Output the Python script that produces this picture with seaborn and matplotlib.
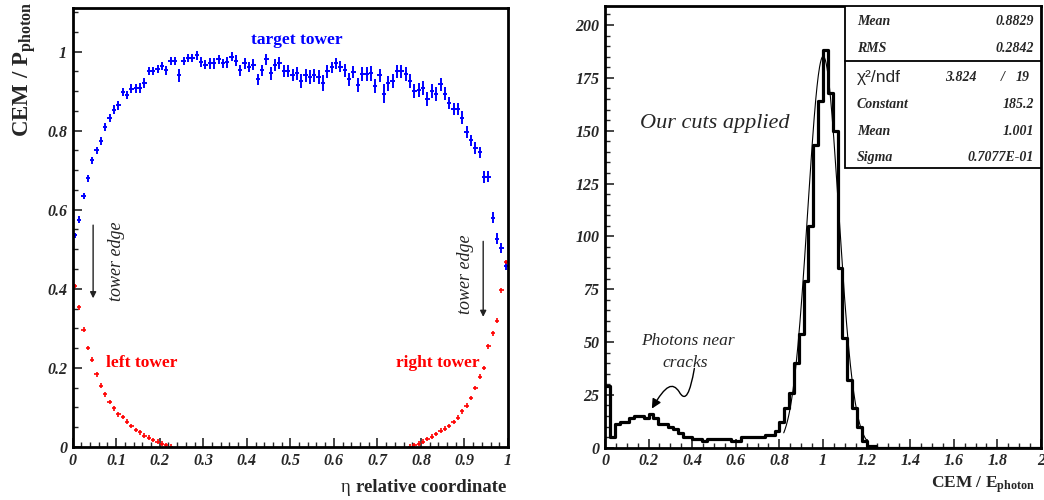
import numpy as np
import pandas as pd
import matplotlib
matplotlib.use("Agg")
import matplotlib.pyplot as plt
from matplotlib.ticker import MultipleLocator, FuncFormatter
from matplotlib.path import Path
from matplotlib.patches import FancyArrowPatch, Rectangle
import seaborn as sns

# ---------------- data: left panel ----------------
eta_target = [round(0.005 + 0.01 * i, 3) for i in range(100)]
cem_target = [0.535, 0.575, 0.634, 0.68, 0.725, 0.75, 0.773, 0.81, 0.833, 0.853,
              0.864, 0.897, 0.89, 0.906, 0.907, 0.908, 0.92, 0.95, 0.95, 0.955,
              0.963, 0.952, 0.975, 0.975, 0.94, 0.975, 0.984, 0.984, 0.99, 0.973,
              0.967, 0.97, 0.97, 0.98, 0.97, 0.973, 0.987, 0.977, 0.952, 0.97,
              0.96, 0.967, 0.93, 0.952, 0.98, 0.945, 0.965, 0.97, 0.95, 0.95,
              0.94, 0.945, 0.925, 0.94, 0.935, 0.94, 0.935, 0.92, 0.95, 0.96,
              0.97, 0.962, 0.952, 0.93, 0.948, 0.915, 0.943, 0.943, 0.945, 0.912,
              0.94, 0.893, 0.92, 0.925, 0.95, 0.95, 0.943, 0.925, 0.9, 0.903,
              0.908, 0.88, 0.9, 0.893, 0.917, 0.893, 0.87, 0.855, 0.855, 0.833,
              0.796, 0.775, 0.755, 0.745, 0.683, 0.683, 0.58, 0.527, 0.503, 0.457]
err_target = [0.006, 0.008, 0.008, 0.009, 0.009, 0.009, 0.010, 0.010, 0.010, 0.011,
              0.011, 0.010, 0.011, 0.012, 0.012, 0.012, 0.012, 0.010, 0.010, 0.010,
              0.011, 0.012, 0.010, 0.010, 0.017, 0.010, 0.010, 0.010, 0.012, 0.012,
              0.012, 0.014, 0.014, 0.012, 0.012, 0.014, 0.012, 0.013, 0.015, 0.013,
              0.013, 0.014, 0.014, 0.015, 0.013, 0.017, 0.015, 0.015, 0.015, 0.015,
              0.015, 0.017, 0.017, 0.017, 0.017, 0.017, 0.018, 0.020, 0.016, 0.014,
              0.013, 0.015, 0.016, 0.016, 0.016, 0.018, 0.018, 0.018, 0.019, 0.018,
              0.017, 0.024, 0.019, 0.018, 0.017, 0.017, 0.017, 0.018, 0.018, 0.018,
              0.017, 0.018, 0.018, 0.018, 0.017, 0.016, 0.016, 0.016, 0.016, 0.016,
              0.015, 0.015, 0.015, 0.014, 0.015, 0.014, 0.014, 0.014, 0.012, 0.010]

eta_left = [round(0.005 + 0.01 * i, 3) for i in range(23)]
cem_left = [0.407, 0.353, 0.297, 0.25, 0.221, 0.184, 0.155, 0.133, 0.114, 0.098,
            0.083, 0.076, 0.064, 0.053, 0.043, 0.037, 0.029, 0.024, 0.018, 0.013,
            0.008, 0.004, 0.001]
eta_right = [round(0.775 + 0.01 * i, 3) for i in range(23)]
cem_right = [0.001, 0.004, 0.008, 0.013, 0.020, 0.026, 0.033, 0.041, 0.046, 0.053,
             0.063, 0.074, 0.090, 0.104, 0.124, 0.149, 0.178, 0.200, 0.255, 0.287,
             0.319, 0.396, 0.468]

# ---------------- data: right panel ----------------
n_bins = 90
hist_counts = [29, 5, 11, 12, 12, 14, 15, 15, 14, 16,
               14, 11, 11, 10, 9, 7, 5, 5, 4, 4,
               3, 4, 4, 4, 4, 4, 3, 3, 5, 5,
               5, 5, 5, 6, 6, 8, 12, 19, 26, 40,
               54, 79, 105, 143, 164, 188, 168, 150, 85, 52,
               32, 19, 10, 3, 1, 1, 0, 0, 0, 0,
               0, 0, 0, 0, 0, 0, 0, 0, 0, 0,
               0, 0, 0, 0, 0, 0, 0, 0, 0, 0,
               0, 0, 0, 0, 0, 0, 0, 0, 0, 0]
fit_constant, fit_mean, fit_sigma = 185.2, 1.001, 0.07077
stat_labels = ["Mean", "RMS", None, "Constant", "Mean", "Sigma"]
stat_values = ["0.8829", "0.2842", None, "185.2", "1.001", "0.7077E-01"]
chi2_text, ndf_text = "3.824", "19"

# ---------------- style ----------------
sns.set_style("ticks")
plt.rcParams['font.family'] = ['Liberation Serif', 'DejaVu Serif']
plt.rcParams['mathtext.fontset'] = 'custom'
plt.rcParams['mathtext.rm'] = 'Liberation Serif'
plt.rcParams['mathtext.bf'] = 'Liberation Serif:bold'
plt.rcParams['mathtext.it'] = 'Liberation Serif:italic'

fig = plt.figure(figsize=(10.44, 5), dpi=100)
ax1 = fig.add_axes([0.0696, 0.106, 0.417, 0.878])
ax2 = fig.add_axes([0.5795, 0.1046, 0.4176, 0.8834])

BLUE = '#0000ff'
RED = '#ff0000'

# ---------------- left panel ----------------
ax1.errorbar(eta_target, cem_target, xerr=0.005, yerr=err_target, fmt='none',
             ecolor=BLUE, elinewidth=1.4, capsize=0)
ax1.errorbar(eta_left, cem_left, xerr=0.005, yerr=0.006, fmt='none',
             ecolor=RED, elinewidth=1.2, capsize=0)
ax1.errorbar(eta_right, cem_right, xerr=0.005, yerr=0.006, fmt='none',
             ecolor=RED, elinewidth=1.2, capsize=0)
ax1.set_xlim(0, 1)
ax1.set_ylim(0, 1.11)

ax1.text(0.515, 1.028, "target tower", color=BLUE, fontsize=12.5,
         fontweight='bold', ha='center', va='center')
ax1.text(0.077, 0.213, "left tower", color=RED, fontsize=12.5,
         fontweight='bold', ha='left', va='center')
ax1.text(0.935, 0.213, "right tower", color=RED, fontsize=12.5,
         fontweight='bold', ha='right', va='center')
ax1.text(0.0996, 0.47, "tower edge", color='#222222', fontsize=13,
         style='italic', rotation=90, ha='center', va='center')
ax1.text(0.903, 0.437, "tower edge", color='#222222', fontsize=13,
         style='italic', rotation=90, ha='center', va='center')
ax1.annotate("", xy=(0.047, 0.376), xytext=(0.047, 0.561),
             arrowprops=dict(arrowstyle='-|>', color='#222222', lw=1.0,
                             mutation_scale=9, shrinkA=0, shrinkB=0))
ax1.annotate("", xy=(0.943, 0.329), xytext=(0.943, 0.52),
             arrowprops=dict(arrowstyle='-|>', color='#222222', lw=1.0,
                             mutation_scale=9, shrinkA=0, shrinkB=0))

ax1.xaxis.set_major_locator(MultipleLocator(0.1))
ax1.xaxis.set_minor_locator(MultipleLocator(0.02))
ax1.yaxis.set_major_locator(MultipleLocator(0.2))
ax1.yaxis.set_minor_locator(MultipleLocator(0.05))

# ---------------- right panel ----------------
bin_w = 2.0 / n_bins
bin_centers = [bin_w * (i + 0.5) for i in range(n_bins)]
df = pd.DataFrame({"x": bin_centers, "w": hist_counts})
sns.histplot(data=df, x="x", weights="w", binwidth=bin_w, binrange=(0, 2),
             element='step', fill=False, color='black', linewidth=2.3, ax=ax2)
xf = np.linspace(0.82, 1.2, 200)
yf = fit_constant * np.exp(-0.5 * ((xf - fit_mean) / fit_sigma) ** 2)
sns.lineplot(x=xf, y=yf, ax=ax2, color='black', linewidth=0.8)
ax2.set_xlim(0, 2)
ax2.set_ylim(0, 209)
ax2.set_xlabel("")
ax2.set_ylabel("")

ax2.xaxis.set_major_locator(MultipleLocator(0.2))
ax2.xaxis.set_minor_locator(MultipleLocator(0.05))
ax2.yaxis.set_major_locator(MultipleLocator(25))
ax2.yaxis.set_minor_locator(MultipleLocator(5))

ax2.text(0.16, 153.6, "Our cuts applied", fontsize=16, style='italic',
         ha='left', va='center')
ax2.text(0.381, 50.6, "Photons near", fontsize=12.5, style='italic',
         ha='center', va='center')
ax2.text(0.369, 40.0, "cracks", fontsize=12.5, style='italic',
         ha='center', va='center')
curl = Path([(0.41, 37.5), (0.39, 26.0), (0.37, 21.0), (0.34, 26.5),
             (0.31, 31.0), (0.28, 30.0), (0.215, 18.5)],
            [Path.MOVETO, Path.CURVE4, Path.CURVE4, Path.CURVE4,
             Path.CURVE4, Path.CURVE4, Path.CURVE4])
ax2.add_patch(FancyArrowPatch(path=curl, arrowstyle='-|>', color='black',
                              lw=1.0, mutation_scale=14))

# stats box
bx0, by0, by_div = 0.5505, 0.633, 0.8755
ax2.add_patch(Rectangle((bx0, by0), 1 - bx0, 1 - by0, transform=ax2.transAxes,
                        facecolor='white', edgecolor='black', lw=1.3, zorder=5))
ax2.plot([bx0, 1], [by_div, by_div], transform=ax2.transAxes, color='black',
         lw=1.3, zorder=6)
row_y = [0.9638, 0.9027, 0.839, 0.778, 0.717, 0.658]
for yy, lab, val in zip(row_y, stat_labels, stat_values):
    if lab is None:
        ax2.text(0.578, yy, "χ²/ndf", transform=ax2.transAxes, fontsize=12.5,
                 family=['Liberation Sans', 'DejaVu Sans'], ha='left',
                 va='center', zorder=7)
        ax2.text(0.853, yy, chi2_text, transform=ax2.transAxes, fontsize=10,
                 fontweight='bold', style='italic', ha='right', va='center', zorder=7)
        ax2.text(0.913, yy, "/", transform=ax2.transAxes, fontsize=10,
                 fontweight='bold', style='italic', ha='center', va='center', zorder=7)
        ax2.text(0.975, yy, ndf_text, transform=ax2.transAxes, fontsize=10,
                 fontweight='bold', style='italic', ha='right', va='center', zorder=7)
    else:
        ax2.text(0.578, yy, lab, transform=ax2.transAxes, fontsize=10,
                 fontweight='bold', style='italic', ha='left', va='center', zorder=7)
        ax2.text(0.984, yy, val, transform=ax2.transAxes, fontsize=10,
                 fontweight='bold', style='italic', ha='right', va='center', zorder=7)

# ---------------- common axis styling ----------------
fmt = FuncFormatter(lambda v, p: f"{v:g}")
for ax in (ax1, ax2):
    ax.xaxis.set_major_formatter(fmt)
    ax.yaxis.set_major_formatter(fmt)
    for sp in ax.spines.values():
        sp.set_visible(True)
        sp.set_linewidth(2.0)
        sp.set_color('black')
    ax.tick_params(which='major', direction='in', length=6.5, width=1.2,
                   labelsize=11.5, pad=4, top=False, right=False)
    ax.tick_params(which='minor', direction='in', length=3.5, width=1.0,
                   top=False, right=False)
    for lbl in ax.get_xticklabels() + ax.get_yticklabels():
        lbl.set_fontweight('bold')
        lbl.set_fontstyle('italic')

# axis titles
xl = fig.text(0.4847, 0.026, "relative coordinate", fontsize=13.5,
              fontweight='bold', ha='right', va='center')
fig.add_artist(matplotlib.text.Annotation(
    "η ", xy=(0.0, 0.5), xycoords=xl, fontsize=13.5, ha='right', va='center',
    annotation_clip=False))
fig.text(0.991, 0.030, r"CEM / E$_{\mathbf{photon}}$", fontsize=12.5,
         fontweight='bold', ha='right', va='center')
fig.text(0.024, 0.997, r"CEM / P$_{\mathbf{photon}}$", fontsize=16.5,
         fontweight='bold', rotation=90, ha='center', va='top')

fig.savefig("out.png", dpi=100)
